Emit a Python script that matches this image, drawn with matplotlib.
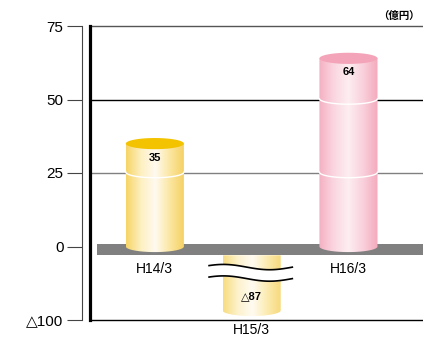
import numpy as np
import matplotlib.pyplot as plt
from matplotlib.colors import LinearSegmentedColormap
from matplotlib.patches import Polygon

# data (億円)
categories = ['H14/3', 'H15/3', 'H16/3']
values = [35, -87, 64]
tick_values = [75, 50, 25, 0, -100]
tick_labels = ['75', '50', '25', '0', '△100']

FONT = ['Liberation Sans', 'DejaVu Sans']


def yscale(v):
    # broken axis: negative part compressed 4x
    return v if v >= 0 else v / 4.0


fig = plt.figure(figsize=(4.23, 3.40), dpi=100)
ax = fig.add_axes([90 / 423, 20 / 340, 333 / 423, 294 / 340])
ax.set_xlim(-0.67, 2.77)
ax.set_ylim(-25, 75)

# gridlines
grid_styles = {75: '#555555', 50: 'black', 25: '#808080', -100: 'black'}
for v, c in grid_styles.items():
    ax.axhline(yscale(v), color=c, lw=1.0, zorder=1, clip_on=False)

# thick inner axis line
ax.axvline(-0.67, color='black', lw=2.3, zorder=5, clip_on=False)

# left spine with outward ticks
for s in ['top', 'right', 'bottom']:
    ax.spines[s].set_visible(False)
ax.spines['left'].set_position(('outward', 6))
ax.spines['left'].set_linewidth(0.8)
ax.spines['left'].set_color('#444444')
ax.set_yticks([yscale(v) for v in tick_values])
ax.set_yticklabels(tick_labels, family=FONT, fontsize=11)
ax.tick_params(axis='y', length=11, width=0.8, color='#444444', pad=2)
ax.set_xticks([])

# zero band
ax.fill_between([-0.6, 2.77], 1.0, -3.0, color='#808080', zorder=3, lw=0)

bw = 0.6
eh = 3.8  # ellipse height in data units
styles = [
    (['#f7d466', '#fdf0c0', '#fffaf0', '#fbe6a0', '#f5d060'], '#f3c300'),
    (['#f8dc80', '#fdf2cc', '#fffbf2', '#fcebb0', '#f7d878'], None),
    (['#f4b0c2', '#fad6e0', '#fdeef2', '#f9d0db', '#f3aabd'], '#f4a4b8'),
]

t = np.linspace(0, np.pi, 60)
for i, (v, (cols, topc)) in enumerate(zip(values, styles)):
    y_top = yscale(v) if v > 0 else -3.0
    y_bot = 0.0 if v > 0 else yscale(v)
    x0, x1 = i - bw / 2, i + bw / 2
    # body outline: sides + lower half ellipse at bottom
    arc_y = y_bot - (eh / 2) * np.sin(t)
    verts = [(x0, y_top)] + list(zip(i - (bw / 2) * np.cos(t), arc_y)) + [(x1, y_top)]
    clip = Polygon(verts, closed=True, transform=ax.transData, facecolor='none', edgecolor='none')
    ax.add_patch(clip)
    cmap = LinearSegmentedColormap.from_list('c%d' % i, cols)
    grad = np.linspace(0, 1, 256).reshape(1, -1)
    im = ax.imshow(grad, cmap=cmap, aspect='auto', extent=[x0, x1, y_bot - eh, y_top],
                   zorder=4 if v > 0 else 2, interpolation='bilinear')
    im.set_clip_path(clip)
    if topc is not None:
        tt = np.linspace(0, 2 * np.pi, 80)
        ax.fill(i + (bw / 2) * np.cos(tt), y_top + (eh / 2) * np.sin(tt),
                color=topc, zorder=4.5, lw=0)
    # white rings where gridlines cross
    for g in [25, 50]:
        if 0 < g < v:
            ax.plot(i - (bw / 2) * np.cos(t), g - (eh / 2) * np.sin(t) + 0.3,
                    color='white', lw=1.0, zorder=4.6)
    # value label
    if v > 0:
        ax.text(i, yscale(v) - 4.8, str(v), ha='center', va='center', fontsize=8,
                fontweight='bold', family=FONT, zorder=6)
        ax.text(i, -7.6, categories[i], ha='center', va='center', fontsize=10,
                family=FONT, zorder=6)
    else:
        ax.text(i, -16.8, '△' + str(abs(v)), ha='center', va='center', fontsize=8,
                fontweight='bold', family=FONT, zorder=6)
        ax.text(i, -28.5, categories[i], ha='center', va='center', fontsize=10,
                family=FONT, zorder=6, clip_on=False)

# wave break on the negative bar
wx = np.linspace(1 - 0.44, 1 + 0.42, 100)
wy = 0.9 * np.sin((wx - wx[0]) / (wx[-1] - wx[0]) * 1.8 * np.pi + 0.6)
ax.fill_between(wx, wy - 7.0, wy - 10.9, color='white', zorder=5, lw=0)
ax.plot(wx, wy - 7.0, color='black', lw=1.2, zorder=5.5)
ax.plot(wx, wy - 10.9, color='black', lw=1.2, zorder=5.5)

fig.text(0.992, 1 - 16 / 340, '（億円）', ha='right', va='center', fontsize=7.5,
         fontweight='bold', family=['Noto Sans CJK JP', 'DejaVu Sans'])

fig.savefig('out.png', dpi=100)
